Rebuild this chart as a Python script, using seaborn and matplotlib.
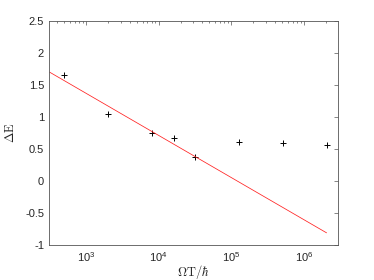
import numpy as np
import pandas as pd
import matplotlib
matplotlib.use('Agg')
import matplotlib.pyplot as plt
import matplotlib.ticker as mticker
import seaborn as sns

# data
omega_t = [500, 2000, 8000, 16000, 32000, 128000, 512000, 2048000]
delta_e = [1.65, 1.04, 0.75, 0.67, 0.37, 0.61, 0.59, 0.57]

# fitted line end points
fit_x = [316, 2048000]
fit_y = [1.70, -0.81]

y_ticks = [-1, -0.5, 0, 0.5, 1, 1.5, 2, 2.5]
y_labels = ['-1', '-0.5', '0', '0.5', '1', '1.5', '2', '2.5']

sns.set_style('white')
plt.rcParams['font.family'] = ['Liberation Sans', 'DejaVu Sans']
plt.rcParams['mathtext.fontset'] = 'cm'

pts = pd.DataFrame({'x': omega_t, 'y': delta_e})
fit = pd.DataFrame({'x': fit_x, 'y': fit_y})

fig = plt.figure(figsize=(3.74, 2.8), dpi=100)
ax = fig.add_axes([0.131, 0.125, 0.773, 0.80])

sns.lineplot(data=fit, x='x', y='y', ax=ax, color='#ff2020', linewidth=0.55)
sns.scatterplot(data=pts, x='x', y='y', ax=ax, marker='+', color='black',
                s=22, linewidth=0.7)

ax.set_xscale('log')
ax.set_xlim(10 ** 2.49, 10 ** 6.47)
ax.set_ylim(-1, 2.5)
ax.set_yticks(y_ticks)
ax.set_yticklabels(y_labels)
ax.xaxis.set_major_locator(mticker.FixedLocator([1e3, 1e4, 1e5, 1e6]))
ax.xaxis.set_minor_locator(mticker.LogLocator(base=10, subs=np.arange(2, 10), numticks=20))
ax.xaxis.set_minor_formatter(mticker.NullFormatter())

grey = '#262626'
for s in ax.spines.values():
    s.set_color('#555555')
    s.set_linewidth(0.6)
ax.tick_params(which='both', direction='in', top=True, right=True,
               colors='#555555', labelcolor=grey, labelsize=8, width=0.5)
ax.tick_params(which='major', length=3)
ax.tick_params(which='minor', length=1.6)
ax.tick_params(axis='x', pad=4)

ax.set_xlabel(r'$\Omega\mathrm{T}/\hbar$', fontsize=9, color=grey, labelpad=-1)
ax.set_ylabel(r'$\Delta\mathrm{E}$', fontsize=9, color=grey, labelpad=6)

fig.savefig('out.png', dpi=100)
